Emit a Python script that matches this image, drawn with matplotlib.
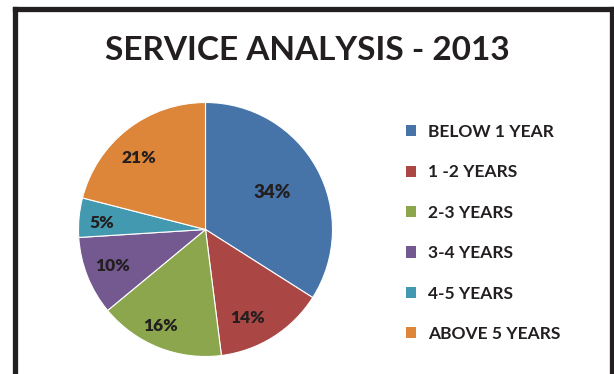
import matplotlib
matplotlib.use("Agg")
import numpy as np
import matplotlib.pyplot as plt
from matplotlib.lines import Line2D
from matplotlib.patches import Patch

plt.rcParams['font.family'] = ['Lato', 'DejaVu Sans']

# service length breakdown
categories = ['BELOW 1 YEAR', '1 -2 YEARS', '2-3 YEARS', '3-4 YEARS', '4-5 YEARS', 'ABOVE 5 YEARS']
shares = [34, 14, 16, 10, 5, 21]
colors = ['#4674A8', '#AA4744', '#8BA64C', '#73598F', '#4399B0', '#DD8539']
# label placement: fraction of radius and angle nudge (degrees) per slice
label_dist = [0.6, 0.77, 0.84, 0.79, 0.82, 0.77]
label_turn = [0, -7, -3.5, 0, 1.8, 5.5]

W, H = 614, 374
fig = plt.figure(figsize=(W / 100, H / 100), dpi=100)
ink = '#231f20'

# frame: left, top and right edges only
frame = dict(color=ink, lw=3.8, solid_capstyle='projecting', transform=fig.transFigure)
fig.add_artist(Line2D([14.5 / W, 14.5 / W], [0, 1 - 8.5 / H], **frame))
fig.add_artist(Line2D([14.5 / W, 611.5 / W], [1 - 8.5 / H, 1 - 8.5 / H], **frame))
fig.add_artist(Line2D([611.5 / W, 611.5 / W], [0, 1 - 8.5 / H], **frame))

fig.text(307 / W, 1 - 50 / H, 'SERVICE ANALYSIS - 2013', ha='center', va='center',
         fontsize=24, fontweight='bold', color=ink)

cx, cy, r = 205.5, 229.5, 127
ax = fig.add_axes([(cx - r) / W, (H - cy - r) / H, 2 * r / W, 2 * r / H])
wedges, _ = ax.pie(shares, colors=colors, startangle=90, counterclock=False,
                   wedgeprops=dict(edgecolor='white', linewidth=0.8))
for w, v, d, turn in zip(wedges, shares, label_dist, label_turn):
    mid = np.deg2rad((w.theta1 + w.theta2) / 2 + turn)
    ax.text(d * np.cos(mid), d * np.sin(mid), f'{v}%', ha='center', va='center',
            fontsize=13.5 if v == 34 else 12.5, fontweight='heavy', color=ink)
ax.set_xlim(-1, 1)
ax.set_ylim(-1, 1)
ax.set_aspect('equal')
ax.axis('off')

handles = [Patch(facecolor=c, edgecolor='none') for c in colors]
leg = fig.legend(handles, categories, loc='upper left',
                 bbox_to_anchor=(397 / W, 1 - 115 / H), frameon=False,
                 handlelength=0.6, handleheight=0.6, handletextpad=0.7,
                 labelspacing=1.41, borderpad=0,
                 prop=dict(family='Lato', weight='bold', size=12.5))
for t in leg.get_texts():
    t.set_color(ink)

fig.savefig('out.png', dpi=100)
